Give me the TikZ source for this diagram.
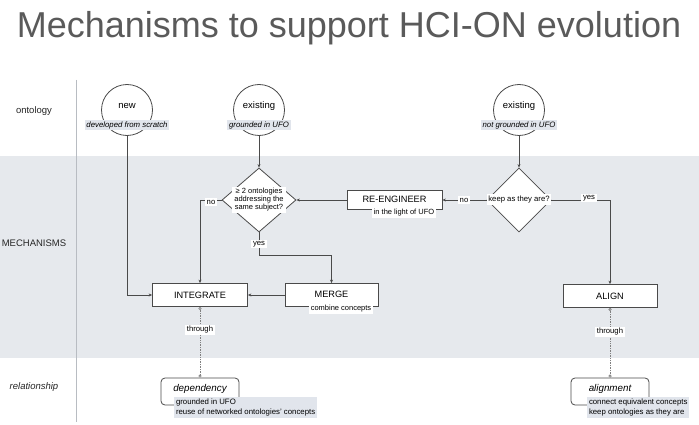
\documentclass[tikz,border=0pt]{standalone}
\usepackage{fontspec}
\setmainfont{Liberation Sans}
\usetikzlibrary{shapes.geometric,arrows.meta}
\definecolor{band}{HTML}{E6E9ED}
\definecolor{lblfill}{HTML}{E1E5EC}
\definecolor{ln}{HTML}{4A4A4A}
\definecolor{ttl}{HTML}{5A5A5A}
\definecolor{sep}{HTML}{B8BCC2}
\tikzset{
  fs/.style={font=\fontsize{#1}{#1}\selectfont},
  arr/.style={draw=ln, line width=0.8pt, -{Stealth[length=3.5pt,width=3pt]}},
  thru/.style={draw=gray, line width=0.7pt, densely dotted, {Circle[open,length=3pt,width=3pt]}-{Circle[open,length=3pt,width=3pt]}},
  box/.style={draw=ln, fill=white, line width=0.8pt, minimum height=23pt, inner sep=0pt, fs=9.2},
  circ/.style={draw=ln, fill=white, line width=0.8pt, circle, minimum size=51pt, inner sep=0pt},
  dia/.style={draw=ln, fill=white, line width=0.8pt, diamond, minimum width=74pt, minimum height=64pt, inner sep=0pt},
  rbox/.style={draw=ln, fill=white, line width=0.8pt, rounded corners=4pt, minimum width=78pt, minimum height=27pt, inner sep=0pt},
  tag/.style={fill=lblfill, inner sep=1.6pt, font=\fontsize{7.8}{9}\selectfont\itshape},
  wlbl/.style={fill=white, inner sep=1.6pt, fs=7.7},
  side/.style={fs=9.5, text=black!85},
}
\begin{document}
\begin{tikzpicture}[x=1pt,y=-1pt]
\useasboundingbox (0,0) rectangle (699,425);
\fill[white] (0,0) rectangle (699,425);
\fill[band] (0,156) rectangle (699,358);
\draw[sep, line width=1pt] (76,80) -- (76,422);

\node[text=ttl, fs=36, anchor=base] (title) at (349,38) {Mechanisms to support HCI-ON evolution};

\node[side] (lont) at (34,111) {ontology};
\node[side] (lmech) at (34,243) {MECHANISMS};
\node[side, font=\fontsize{9.5}{9.5}\selectfont\itshape] (lrel) at (34,387) {relationship};

% ontology circles
\node[circ] (new) at (127,110) {};
\node[fs=9.5] (newt) at (127,106) {new};
\node[tag] (newl) at (127,125) {developed from scratch};

\node[circ] (ex1) at (259,110) {};
\node[fs=9.5] (ex1t) at (259,106) {existing};
\node[tag] (ex1l) at (259,125) {grounded in UFO};

\node[circ] (ex2) at (519,110) {};
\node[fs=9.5] (ex2t) at (519,106) {existing};
\node[tag] (ex2l) at (519,125) {not grounded in UFO};

% decisions
\node[dia] (d1) at (259,200) {};
\node[dia, minimum width=64pt] (d2) at (519,200) {};

% boxes
\node[box, minimum width=95pt, minimum height=19pt] (reeng) at (394.5,200) {};
\node[fs=9.2] (reengt) at (394.5,199) {RE-ENGINEER};
\node[fill=white, inner sep=1.4pt, fs=7.5] (reengl) at (404,213) {in the light of UFO};

\node[box, minimum width=95pt] (integrate) at (200,295) {INTEGRATE};
\node[box, minimum width=93pt] (merge) at (331.5,295) {};
\node[fs=9.2] (merget) at (331.5,294) {MERGE};
\node[fill=white, inner sep=1.4pt, fs=7.5] (mergel) at (341,309) {combine concepts};

\node[box, minimum width=94pt] (align) at (610,296) {ALIGN};

% relationships
\node[rbox] (dep) at (200,391.5) {};
\node[font=\fontsize{9.8}{9.8}\selectfont\itshape] (dept) at (200,388.5) {dependency};
\node[fill=lblfill, inner sep=1.8pt, anchor=north west, align=left, font=\fontsize{7.8}{10}\selectfont] (depl) at (174,397) {grounded in UFO\\reuse of networked ontologies' concepts};

\node[rbox] (alm) at (610,391.5) {};
\node[font=\fontsize{9.8}{9.8}\selectfont\itshape] (almt) at (610,388.5) {alignment};
\node[fill=lblfill, inner sep=1.8pt, anchor=north west, align=left, font=\fontsize{7.8}{10}\selectfont] (alml) at (587,397) {connect equivalent concepts\\keep ontologies as they are};

% connectors
\draw[arr] (new.south) |- (integrate.west);
\draw[arr] (ex1.south) -- (d1.north);
\draw[arr] (ex2.south) -- (d2.north);
\draw[arr] (d1.west) -| (integrate.north);
\draw[arr] (d1.south) -- ++(0,23) -| (merge.north);
\draw[arr] (reeng.west) -- (d1.east);
\draw[arr] (d2.west) -- (reeng.east);
\draw[arr] (d2.east) -| (align.north);
\draw[arr] (merge.west) -- (integrate.east);
\draw[thru] (integrate.south) -- (dep.north);
\draw[thru] (align.south) -- (alm.north);

% connector labels
\node[wlbl] (no1) at (211,202) {no};
\node[wlbl] (yes1) at (259,244) {yes};
\node[wlbl] (no2) at (464,200) {no};
\node[wlbl] (yes2) at (589,198) {yes};
\node[wlbl] (th1) at (200,330) {through};
\node[wlbl] (th2) at (610,332) {through};

% decision texts on top
\node[fill=white, inner sep=2pt, align=center, font=\fontsize{7.5}{8}\selectfont] (d1t) at (259,200) {≥ 2 ontologies\\addressing the\\same subject?};
\node[fill=white, inner sep=1.8pt, fs=7.7] (d2t) at (519,199.5) {keep as they are?};
\end{tikzpicture}
\end{document}
